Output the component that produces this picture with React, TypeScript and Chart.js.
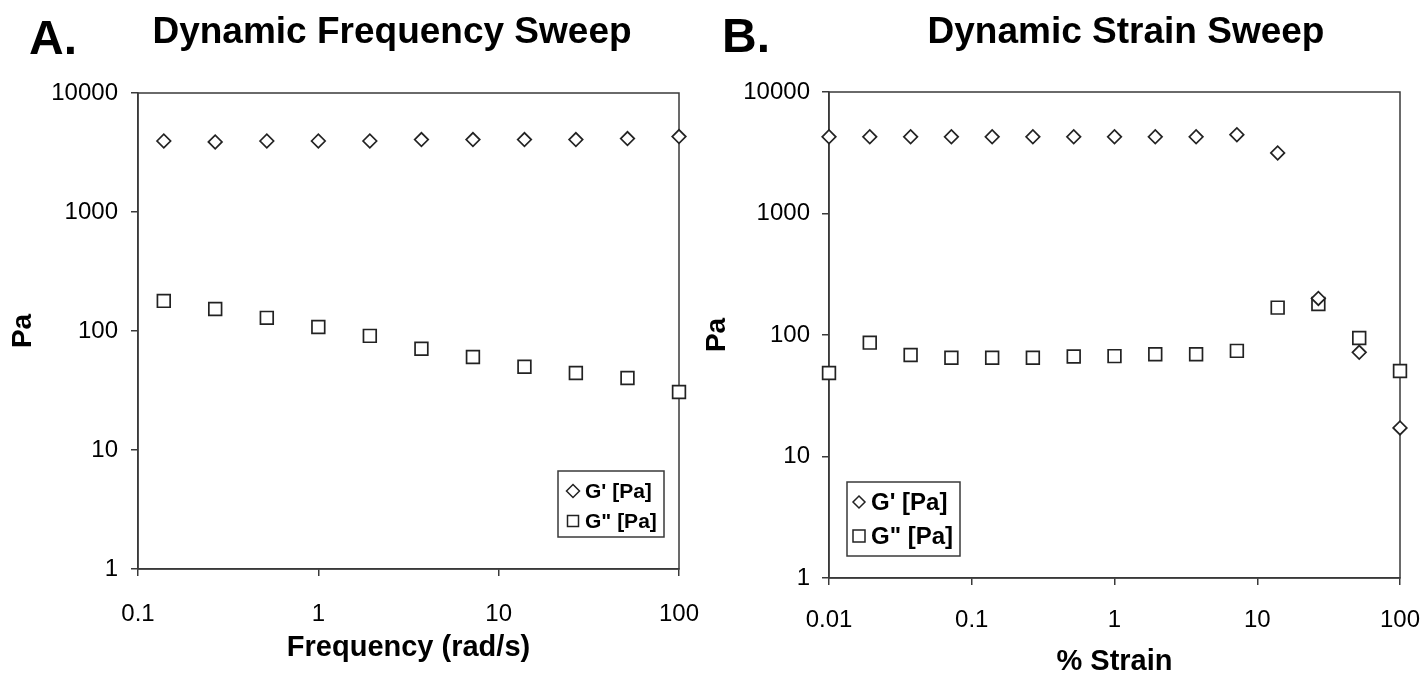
import React, { useEffect, useRef } from 'react';
import { Chart, registerables } from 'chart.js';

Chart.register(...registerables);

// ---------- data ----------
const freqA = [0.139, 0.268, 0.518, 1.0, 1.93, 3.73, 7.2, 13.9, 26.8, 51.8, 100];
const gPrimeA = [3950, 3880, 3950, 3950, 3950, 4060, 4060, 4060, 4060, 4140, 4300];
const gDoubleA = [179, 153, 129, 108, 91, 71, 60.5, 50, 44.4, 40.3, 30.7];

const strainB = [0.01, 0.0193, 0.0373, 0.072, 0.139, 0.268, 0.518, 1.0, 1.93, 3.73, 7.2, 13.9, 26.8, 51.8, 100];
const gPrimeB = [4280, 4280, 4280, 4280, 4280, 4280, 4280, 4280, 4280, 4280, 4450, 3150, 200, 72, 17.2];
const gDoubleB = [48.7, 86.5, 68.4, 65, 65, 65, 66.5, 67, 69.5, 69.5, 74, 168, 180, 94.5, 50.6];

const xTicksA = [0.1, 1, 10, 100];
const xTicksB = [0.01, 0.1, 1, 10, 100];
const yTicks = [1, 10, 100, 1000, 10000];

const seriesLabels = ["G' [Pa]", 'G" [Pa]'];
const panelLetters = ['A.', 'B.'];
const panelTitles = ['Dynamic Frequency Sweep', 'Dynamic Strain Sweep'];
const xTitles = ['Frequency (rad/s)', '% Strain'];
const yTitle = 'Pa';

const FONT = '"Liberation Sans", Arial, Helvetica, sans-serif';
const AXIS = '#3a3a3a';
const MARK = '#222222';

function fmt(v: number): string {
  return String(v);
}

const panelPlugin = {
  id: 'panelDeco',
  beforeDatasetsDraw(chart: any) {
    const { ctx, chartArea: a } = chart;
    ctx.save();
    ctx.strokeStyle = AXIS;
    ctx.lineWidth = 1.5;
    ctx.strokeRect(a.left, a.top, a.right - a.left, a.bottom - a.top);
    ctx.restore();
  },
  afterDraw(chart: any, _a: any, opts: any) {
    const { ctx } = chart;
    ctx.save();
    ctx.fillStyle = '#000';
    ctx.textBaseline = 'alphabetic';
    ctx.textAlign = 'left';
    ctx.font = `bold ${opts.letterSize}px ${FONT}`;
    ctx.fillText(opts.letter, opts.letterX, opts.letterY);
    ctx.textAlign = 'center';
    ctx.font = `bold ${opts.titleSize}px ${FONT}`;
    ctx.fillText(opts.title, opts.titleX, opts.titleY);

    // legend box
    const L = opts.legend;
    ctx.strokeStyle = AXIS;
    ctx.lineWidth = 1.5;
    ctx.fillStyle = '#fff';
    ctx.fillRect(L.x, L.y, L.w, L.h);
    ctx.strokeRect(L.x, L.y, L.w, L.h);
    ctx.font = `bold ${L.font}px ${FONT}`;
    ctx.textAlign = 'left';
    ctx.textBaseline = 'middle';
    L.rows.forEach((ry: number, i: number) => {
      const cx = L.x + L.mx;
      const cy = L.y + ry;
      ctx.strokeStyle = MARK;
      ctx.lineWidth = 1.5;
      ctx.fillStyle = '#fff';
      ctx.beginPath();
      if (i === 0) {
        const r = L.dr;
        ctx.moveTo(cx, cy - r);
        ctx.lineTo(cx + r, cy);
        ctx.lineTo(cx, cy + r);
        ctx.lineTo(cx - r, cy);
        ctx.closePath();
      } else {
        const h = L.sq;
        ctx.rect(cx - h, cy - h, 2 * h, 2 * h);
      }
      ctx.fill();
      ctx.stroke();
      ctx.fillStyle = '#000';
      ctx.fillText(seriesLabels[i], L.x + L.tx, cy + 1);
    });
    ctx.restore();
  },
};

function makeConfig(
  xs: number[],
  g1: number[],
  g2: number[],
  xMin: number,
  xMax: number,
  xTickVals: number[],
  lay: any,
  deco: any,
  xTitle: string,
) {
  const toPts = (ys: number[]) => xs.map((x, i) => ({ x, y: ys[i] }));
  return {
    type: 'scatter',
    data: {
      datasets: [
        {
          label: seriesLabels[0],
          data: toPts(g1),
          pointStyle: 'rectRot',
          pointRadius: 6.8,
          pointBorderWidth: 1.7,
          pointBorderColor: MARK,
          pointBackgroundColor: '#fff',
          showLine: false,
          clip: false,
        },
        {
          label: seriesLabels[1],
          data: toPts(g2),
          pointStyle: 'rect',
          pointRadius: 9,
          pointBorderWidth: 1.7,
          pointBorderColor: MARK,
          pointBackgroundColor: '#fff',
          showLine: false,
          clip: false,
        },
      ],
    },
    options: {
      responsive: false,
      animation: false,
      events: [],
      layout: { padding: { top: lay.top, right: lay.right, left: 0, bottom: 0 } },
      plugins: {
        legend: { display: false },
        tooltip: { enabled: false },
        title: { display: false },
        panelDeco: deco,
      },
      scales: {
        x: {
          type: 'logarithmic',
          position: 'bottom',
          min: xMin,
          max: xMax,
          afterBuildTicks: (s: any) => {
            s.ticks = xTickVals.map((v) => ({ value: v, major: true }));
          },
          afterFit: (s: any) => {
            s.height = lay.xh;
            s.paddingLeft = 0;
            s.paddingRight = 0;
          },
          ticks: {
            autoSkip: false,
            maxRotation: 0,
            padding: lay.xPad,
            color: '#000',
            font: { family: FONT, size: 24 },
            callback: (v: any) => fmt(Number(v)),
          },
          grid: { display: true, drawOnChartArea: false, drawTicks: true, tickLength: 7, color: AXIS, lineWidth: 1.5 },
          border: { display: true, color: AXIS, width: 1.5 },
          title: {
            display: true,
            text: xTitle,
            color: '#000',
            font: { family: FONT, size: lay.xtSize, weight: 'bold' },
            padding: { top: 0, bottom: lay.xtPad },
          },
        },
        y: {
          type: 'logarithmic',
          position: 'left',
          min: 1,
          max: 10000,
          afterBuildTicks: (s: any) => {
            s.ticks = yTicks.map((v) => ({ value: v, major: true }));
          },
          afterFit: (s: any) => {
            s.width = lay.yw;
            s.paddingTop = 0;
            s.paddingBottom = 0;
          },
          ticks: {
            autoSkip: false,
            padding: lay.yPad,
            color: '#000',
            font: { family: FONT, size: 24 },
            callback: (v: any) => fmt(Number(v)),
          },
          grid: { display: true, drawOnChartArea: false, drawTicks: true, tickLength: 7, color: AXIS, lineWidth: 1.5 },
          border: { display: true, color: AXIS, width: 1.5 },
          title: {
            display: true,
            text: yTitle,
            color: '#000',
            font: { family: FONT, size: 28, weight: 'bold' },
            padding: { top: lay.ytPad, bottom: 0 },
          },
        },
      },
    },
    plugins: [panelPlugin],
  } as any;
}

function Panel(props: { cfg: any; left: number; width: number }) {
  const ref = useRef<HTMLCanvasElement | null>(null);
  useEffect(() => {
    if (!ref.current) return;
    const chart = new Chart(ref.current, props.cfg);
    return () => chart.destroy();
  }, []);
  return (
    <canvas
      ref={ref}
      width={props.width}
      height={680}
      style={{ position: 'absolute', left: props.left, top: 0, width: props.width, height: 680, display: 'block' }}
    />
  );
}

export default function App() {
  const cfgA = makeConfig(
    freqA,
    gPrimeA,
    gDoubleA,
    0.1,
    100,
    xTicksA,
    { top: 93, right: 21, xh: 111, yw: 138, xPad: 24, yPad: 13, xtSize: 29, xtPad: 15, ytPad: 6 },
    {
      letter: panelLetters[0],
      letterSize: 48,
      letterX: 29,
      letterY: 54,
      title: panelTitles[0],
      titleSize: 37,
      titleX: 392,
      titleY: 43,
      legend: { x: 558, y: 471, w: 106, h: 66, font: 21, mx: 15, tx: 27, rows: [20, 50], dr: 6.5, sq: 5.5 },
    },
    xTitles[0],
  );
  const cfgB = makeConfig(
    strainB,
    gPrimeB,
    gDoubleB,
    0.01,
    100,
    xTicksB,
    { top: 92, right: 27, xh: 102, yw: 129, xPad: 21, yPad: 12, xtSize: 29, xtPad: 1, ytPad: 0 },
    {
      letter: panelLetters[1],
      letterSize: 48,
      letterX: 22,
      letterY: 52,
      title: panelTitles[1],
      titleSize: 37,
      titleX: 426,
      titleY: 43,
      legend: { x: 147, y: 482, w: 113, h: 74, font: 24, mx: 12, tx: 24, rows: [20, 54], dr: 6, sq: 6 },
    },
    xTitles[1],
  );
  return (
    <div style={{ position: 'fixed', left: 0, top: 0, width: 1427, height: 680, background: '#fff', overflow: 'hidden' }}>
      <Panel cfg={cfgA} left={0} width={700} />
      <Panel cfg={cfgB} left={700} width={727} />
    </div>
  );
}
